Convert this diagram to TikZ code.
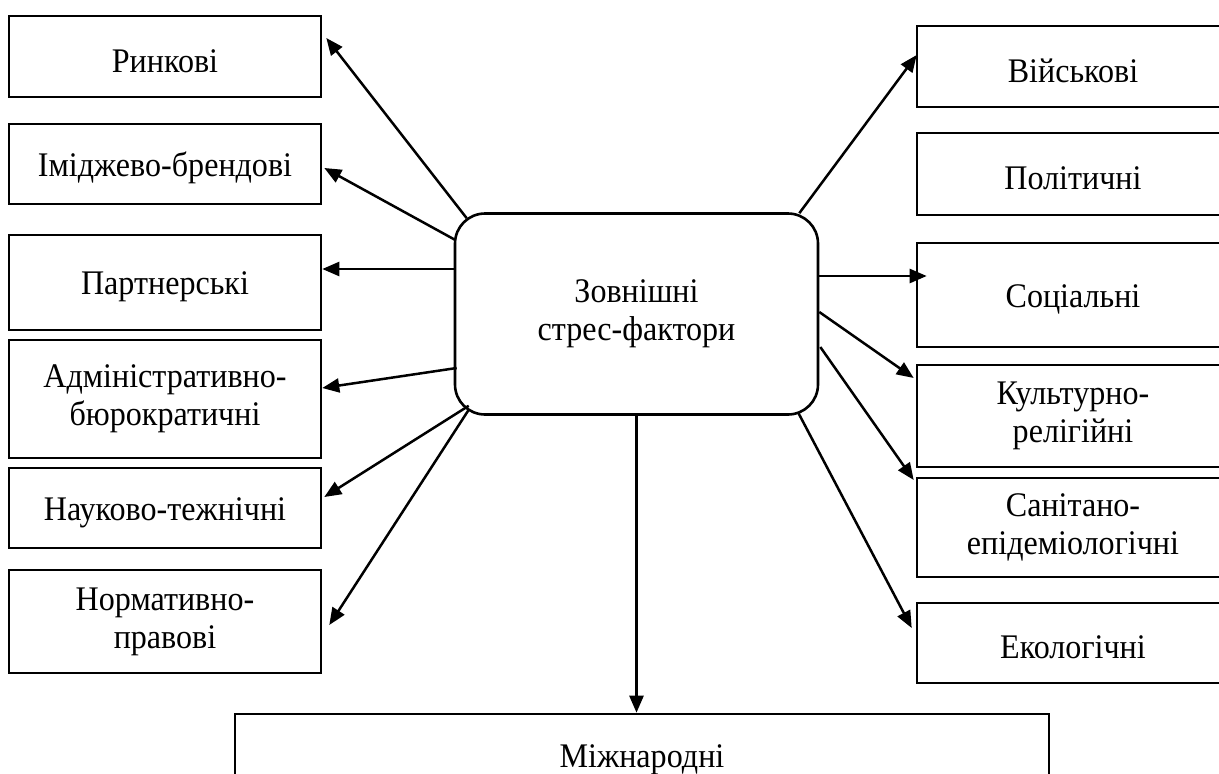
\documentclass[tikz,border=0pt]{standalone}
\usepackage{fontspec}
\setmainfont{Liberation Serif}[FakeStretch=0.93]
\usetikzlibrary{arrows.meta,calc,positioning}

\tikzset{
  factor/.style={draw, line width=2.6pt, minimum width=312pt, align=center, inner sep=0pt,
    execute at begin node={\rule{0pt}{32pt}}},
  link/.style={line width=2.5pt, -{Triangle[length=17pt,width=14pt]}},
}

\begin{document}
\begin{tikzpicture}[x=1pt,y=-1pt,font=\fontsize{34.5}{38}\selectfont]
    \useasboundingbox (0,0) rectangle (1219,774);

    \node[draw, line width=2.6pt, rounded corners=30pt, minimum width=363pt,
      minimum height=201pt, align=center] (zf) at (636.5,314) {Зовнішні\\стрес-фактори};

    % left column
    \node[factor, minimum height=81pt]  (rynk)  at (165,56.5)  {Ринкові};
    \node[factor, minimum height=80pt]  (imidzh) at (165,164)  {Іміджево-брендові};
    \node[factor, minimum height=95pt]  (partn) at (165,282.5) {Партнерські};
    \node[factor, minimum height=118pt] (admin) at (165,399)   {Адміністративно-\\бюрократичні};
    \node[factor, minimum height=80pt]  (nauk)  at (165,508)   {Науково-тежнічні};
    \node[factor, minimum height=103pt] (norm)  at (165,621.5) {Нормативно-\\правові};

    % right column
    \node[factor, minimum height=81pt]  (viysk) at (1073,66.5)  {Військові};
    \node[factor, minimum height=82pt]  (polit) at (1073,174)   {Політичні};
    \node[factor, minimum height=104pt] (sots)  at (1073,295)   {Соціальні};
    \node[factor, minimum height=102pt] (kult)  at (1073,416)   {Культурно-\\релігійні};
    \node[factor, minimum height=99pt]  (sanit) at (1073,527.5) {Санітано-\\епідеміологічні};
    \node[factor, minimum height=80pt]  (ekol)  at (1073,643)   {Екологічні};

    % bottom
    \node[factor, minimum width=814pt, minimum height=82pt] (mizh) at (642,755) {Міжнародні};

    \draw[link] ($(zf.north west)+(13,6)$)  -- ($(rynk.east)+(4,-18.5)$);
    \draw[link] ($(zf.north west)+(2,28)$)  -- ($(imidzh.east)+(2,4)$);
    \draw[link] ($(zf.west)+(0,-45)$)       -- ($(partn.east)+(0,-13.5)$);
    \draw[link] ($(zf.west)+(3,54)$)        -- ($(admin.east)+(0,-11)$);
    \draw[link] ($(zf.south west)+(15,-10)$) -- ($(nauk.east)+(2,-11)$);
    \draw[link] ($(zf.south west)+(15,-6)$) -- ($(norm.east)+(7,3.5)$);

    \draw[link] ($(zf.north east)+(-20,1)$) -- ($(viysk.west)+(1,-11.5)$);
    \draw[link] ($(zf.east)+(0,-38)$)       -- ($(sots.west)+(11,-19)$);
    \draw[link] ($(zf.east)+(0,-2)$)        -- ($(kult.west)+(-2,-38)$);
    \draw[link] ($(zf.east)+(1,33)$)        -- ($(sanit.west)+(-2,-47.5)$);
    \draw[link] ($(zf.south east)+(-21,-3)$) -- ($(ekol.west)+(-4,-15)$);

    \draw[link] (zf.south) -- (zf.south |- mizh.north);
\end{tikzpicture}
\end{document}
